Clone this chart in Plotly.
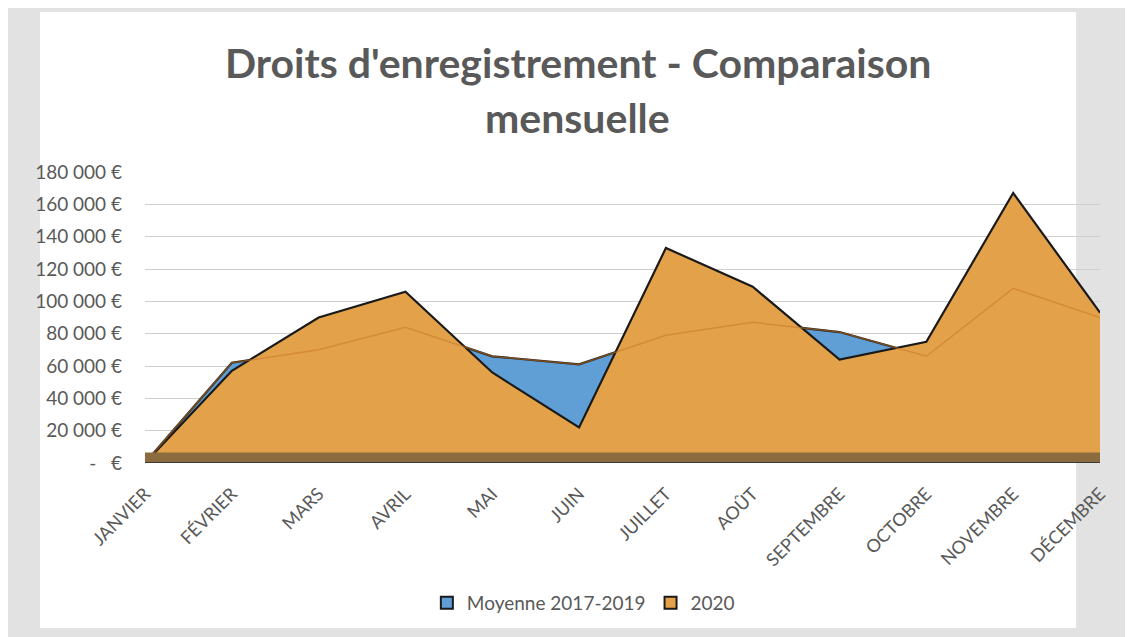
import plotly.graph_objects as go

months = ["JANVIER", "FÉVRIER", "MARS", "AVRIL", "MAI", "JUIN", "JUILLET",
          "AOÛT", "SEPTEMBRE", "OCTOBRE", "NOVEMBRE", "DÉCEMBRE"]
moyenne = [0, 62000, 70000, 84000, 66000, 61000, 79000, 87000, 81000, 66000, 108000, 90000]
y2020 = [0, 57000, 90000, 106000, 56000, 22000, 133000, 109000, 64000, 75000, 167000, 93000]
tick_vals = [0, 20000, 40000, 60000, 80000, 100000, 120000, 140000, 160000, 180000]
tick_text = ["-   €", "20 000 €", "40 000 €", "60 000 €", "80 000 €", "100 000 €",
             "120 000 €", "140 000 €", "160 000 €", "180 000 €"]
title_lines = ["Droits d'enregistrement - Comparaison", "mensuelle"]

BLUE = "#5f9fd6"
ORANGE = "#e3a24a"
SLAB = "#8c6c3f"
TXT = "#595959"
FONT = "Lato"

fig = go.Figure()
fig.add_trace(go.Scatter(
    x=months, y=moyenne, name="Moyenne 2017-2019", mode="lines", showlegend=False,
    fill="tozeroy", fillcolor=BLUE, line=dict(color="#1a1a1a", width=2.2),
))
fig.add_trace(go.Scatter(
    x=months, y=y2020, name="2020", mode="lines", showlegend=False,
    fill="tozeroy", fillcolor=ORANGE, line=dict(color="#1a1a1a", width=2.2),
))
# faint trace of the back series seen through the front area
fig.add_trace(go.Scatter(
    x=months, y=moyenne, mode="lines", showlegend=False, hoverinfo="skip",
    line=dict(color="rgba(200,120,40,0.55)", width=1.5),
))
# legend-only entries with square swatches
fig.add_trace(go.Bar(x=[None], y=[None], name="Moyenne 2017-2019",
                     marker=dict(color=BLUE, line=dict(color="#1a1a1a", width=2))))
fig.add_trace(go.Bar(x=[None], y=[None], name="2020",
                     marker=dict(color=ORANGE, line=dict(color="#1a1a1a", width=2))))

fig.update_layout(
    width=1133, height=637,
    paper_bgcolor="#e2e2e2", plot_bgcolor="rgba(0,0,0,0)",
    margin=dict(l=137, r=41, t=164, b=182, autoexpand=False),
    font=dict(family=FONT, color=TXT, size=15),
    showlegend=True,
    legend=dict(orientation="h", x=0.459, xanchor="center", y=-0.481, yanchor="middle",
                font=dict(family=FONT, size=19, color=TXT), itemsizing="constant",
                bgcolor="rgba(0,0,0,0)"),
    xaxis=dict(type="category", range=[0, 11], showgrid=False, tickangle=-45,
               ticks="", showline=False, ticklabelstandoff=16,
               tickfont=dict(size=18, color=TXT)),
    yaxis=dict(range=[0, 180000], tickvals=tick_vals, ticktext=tick_text,
               showgrid=True, gridcolor="#cfcfcf", gridwidth=1, zeroline=False,
               showline=False, ticks="", ticklabelstandoff=22,
               tickfont=dict(size=19, color=TXT)),
    annotations=[
        dict(text=title_lines[0], xref="paper", yref="paper", x=0.4534, y=1.378,
             xanchor="center", yanchor="middle", showarrow=False,
             font=dict(family=FONT, size=41, color=TXT, weight="bold")),
        dict(text=title_lines[1], xref="paper", yref="paper", x=0.4534, y=1.186,
             xanchor="center", yanchor="middle", showarrow=False,
             font=dict(family=FONT, size=41, color=TXT, weight="bold")),
    ],
    shapes=[
        dict(type="rect", xref="paper", yref="paper", x0=-0.11, x1=0.975,
             y0=-0.567, y1=1.55, fillcolor="#ffffff", line=dict(width=0),
             layer="below"),
        dict(type="rect", xref="x", yref="y", x0=0, x1=11, y0=0, y1=6500,
             fillcolor=SLAB, line=dict(width=0), layer="above"),
        dict(type="line", xref="x", yref="y", x0=0, x1=11, y0=0, y1=0,
             line=dict(color="#3a3a3a", width=2), layer="above"),
    ],
)

fig.write_html("out.html")
